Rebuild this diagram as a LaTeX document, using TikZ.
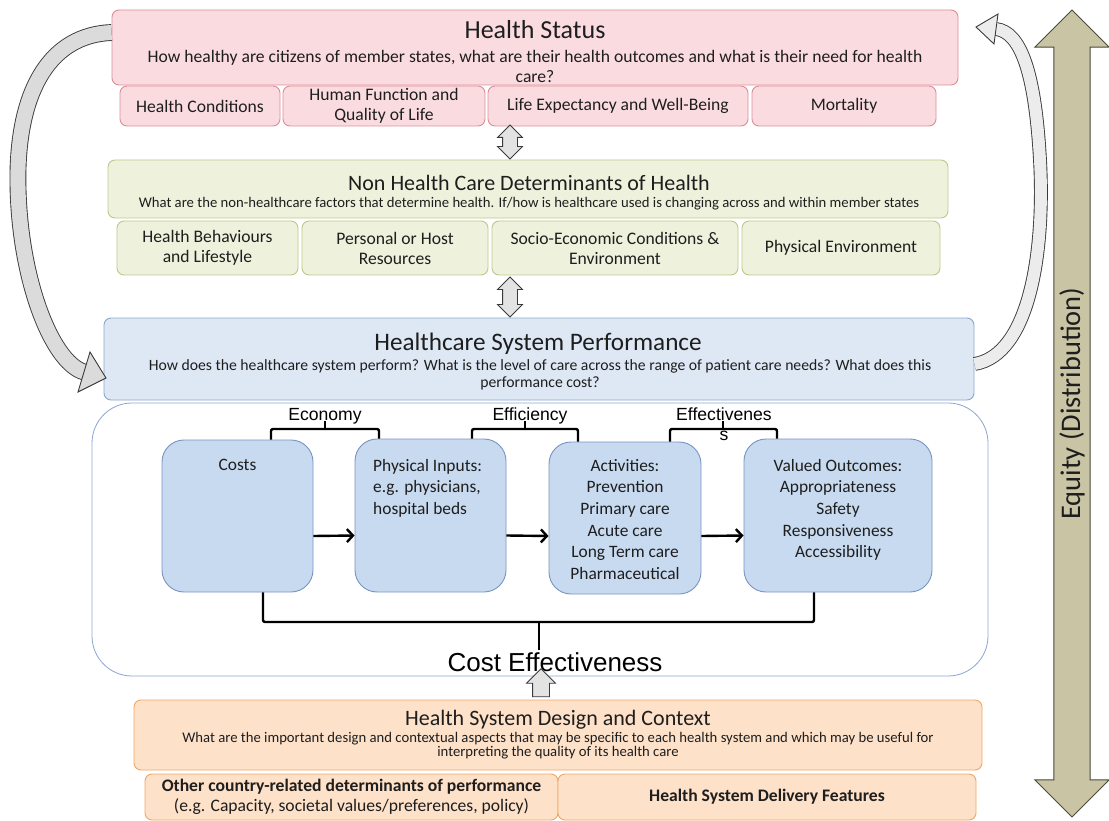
\documentclass[tikz,border=0pt]{standalone}
\usepackage{fontspec}
\setmainfont{Carlito}
\newfontfamily\arialfont{Liberation Sans}
\usepackage{xcolor}
\definecolor{hsfill}{HTML}{FADCE0}
\definecolor{hsline}{HTML}{DB8E98}
\definecolor{ndfill}{HTML}{EEF2DD}
\definecolor{ndline}{HTML}{B9CA8C}
\definecolor{pffill}{HTML}{DEE8F5}
\definecolor{pfline}{HTML}{8AA6D0}
\definecolor{infill}{HTML}{C7DAF0}
\definecolor{inline}{HTML}{7894C2}
\definecolor{dsfill}{HTML}{FDE1C9}
\definecolor{dsline}{HTML}{F0A766}
\definecolor{eqfill}{HTML}{C8C4A4}
\definecolor{eqline}{HTML}{4B4A3C}
\definecolor{arrline}{HTML}{3A3A3A}
\definecolor{txt}{HTML}{1E1E1E}
\usepackage{tikz}
\usetikzlibrary{arrows.meta, positioning, shapes.arrows}
\tikzset{
    panel/.style={
        rectangle, draw, rounded corners=7pt,
        line width=0.9pt, inner sep=0pt
    },
    hsbox/.style={panel, fill=hsfill, draw=hsline},
    ndbox/.style={panel, fill=ndfill, draw=ndline},
    pfbox/.style={panel, fill=pffill, draw=pfline},
    dsbox/.style={panel, fill=dsfill, draw=dsline},
    inbox/.style={panel, fill=infill, draw=inline, rounded corners=22pt},
    paneltitle/.style={font=\fontsize{26}{30}\selectfont, text=txt},
    question/.style={align=center, text=txt},
    item/.style={align=center, text=txt, font=\fontsize{17.6}{20}\selectfont},
    intext/.style={align=center, text=txt, inner sep=0pt,
        font=\fontsize{17.4}{21.6}\selectfont},
    lbl/.style={font=\arialfont\fontsize{17.6}{20.5}\selectfont, inner sep=0pt},
    flow/.style={line width=2.4pt, -{Straight Barb[length=6pt,width=13pt]}},
    brace/.style={line width=2.4pt, rounded corners=2pt},
    dbl/.style={
        double arrow, draw=arrline, fill=gray!22, rotate=90,
        line width=0.8pt, inner xsep=0pt, inner ysep=7pt,
        minimum height=34pt, double arrow head extend=5pt
    },
    loopback/.style={draw=arrline, line width=0.9pt, double distance=15pt},
}

\begin{document}
\begin{tikzpicture}[x=1pt, y=-1pt]
        \useasboundingbox (0,0) rectangle (1109,821);

        % equity arrow
        \node[double arrow, draw=eqline, fill=eqfill, rotate=90, line width=1pt,
              minimum height=807pt, inner xsep=0pt, inner ysep=5pt, double arrow head extend=19pt,
              font=\fontsize{28.4}{32}\selectfont, text=txt] (eq) at (1072,413.5)
              {\hspace*{20pt}Equity (Distribution)};

        % health status
        \node[hsbox, minimum width=846pt, minimum height=75pt] (hs) at (535,47.5) {};
        \node[paneltitle] (hst) at (535,30) {Health Status};
        \node[question, font=\fontsize{17.6}{20}\selectfont] (hsq) at (535,66)
            {How healthy are citizens of member states, what are their health outcomes and what is their need for health\\care?};
        \node[hsbox, item, minimum width=160pt, minimum height=40pt] (hs1) at (200,106) {Health Conditions};
        \node[hsbox, item, minimum width=202pt, minimum height=40pt] (hs2) at (384,106) {Human Function and\\Quality of Life};
        \node[hsbox, item, minimum width=260pt, minimum height=40pt] (hs3) at (618,106) {Life Expectancy and Well-Being};
        \node[hsbox, item, minimum width=184pt, minimum height=40pt] (hs4) at (844,106) {Mortality};

        % non health care determinants
        \node[ndbox, minimum width=840pt, minimum height=58pt] (nd) at (528,189) {};
        \node[paneltitle, font=\fontsize{22}{26}\selectfont] (ndt) at (529,183) {Non Health Care Determinants of Health};
        \node[question, font=\fontsize{14.7}{17}\selectfont] (ndq) at (529,204)
            {What are the non-healthcare factors that determine health. If/how is healthcare used is changing across and within member states};
        \node[ndbox, item, minimum width=181pt, minimum height=54pt] (nd1) at (207.5,248) {Health Behaviours\\and Lifestyle};
        \node[ndbox, item, minimum width=186pt, minimum height=54pt] (nd2) at (395,248) {Personal or Host\\Resources};
        \node[ndbox, item, minimum width=246pt, minimum height=54pt] (nd3) at (615,248) {Socio-Economic Conditions \&\\Environment};
        \node[ndbox, item, minimum width=198pt, minimum height=54pt] (nd4) at (841,248) {Physical Environment};

        % healthcare system performance
        \node[pfbox, minimum width=870pt, minimum height=82pt] (pf) at (539,359) {};
        \node[paneltitle, font=\fontsize{25.2}{29}\selectfont] (pft) at (538,344) {Healthcare System Performance};
        \node[question, font=\fontsize{15.7}{16.5}\selectfont] (pfq) at (540,375)
            {How does the healthcare system perform? What is the level of care across the range of patient care needs? What does this\\performance cost?};

        % curved feedback arrows
        \draw[loopback, double=gray!28]
            ([yshift=15pt]hs.west) .. controls (50,35) and (20,90) .. (18,170)
            .. controls (16,270) and (50,362) .. (84,372);
        \filldraw[draw=arrline, fill=gray!28, line width=0.9pt]
            (78,392) -- (106,378) -- (90,352) -- cycle;
        \draw[loopback, double=gray!15, double distance=12pt]
            ([yshift=-5pt]pf.east) .. controls (1030,355) and (1045,250) .. (1040,160)
            .. controls (1035,70) and (1020,32) .. (996,29);
        \filldraw[draw=arrline, fill=gray!15, line width=0.9pt]
            (998,14) -- (976,27) -- (994,44) -- cycle;

        \node[dbl] (a1) at (510,142) {};
        \node[dbl, minimum height=40pt] (a2) at (510,297) {};

        % value chain
        \node[draw=pfline, rounded corners=40pt, line width=0.8pt,
              minimum width=896pt, minimum height=273pt] (vc) at (540,539.5) {};

        \node[inbox, minimum width=151pt, minimum height=152pt] (costs) at (237.5,516) {};
        \node[inbox, minimum width=151pt, minimum height=153pt] (pin) at (430.5,515.5) {};
        \node[inbox, minimum width=152pt, minimum height=152pt] (act) at (625,518) {};
        \node[inbox, minimum width=188pt, minimum height=153pt] (vo) at (838,515.5) {};

        \node[intext, anchor=north] at (237.5,459) {Costs};
        \node[intext, anchor=north west, align=left] at (373,459) {Physical Inputs:\\e.g. physicians,\\hospital beds};
        \node[intext, anchor=north] at (625,459) {Activities:\\Prevention\\Primary care\\Acute care\\Long Term care\\Pharmaceutical};
        \node[intext, anchor=north] at (838,459) {Valued Outcomes:\\Appropriateness\\Safety\\Responsiveness\\Accessibility};

        \draw[flow] ([yshift=-20pt]costs.east) -- ([yshift=-20pt]pin.west);
        \draw[flow] ([yshift=-20pt]pin.east) -- ([yshift=-18pt]act.west);
        \draw[flow] ([yshift=-18pt]act.east) -- ([yshift=-20pt]vo.west);

        % brackets
        \coordinate (ecoM) at (325,429);
        \coordinate (effM) at (525,429);
        \coordinate (fctM) at (723,429);
        \draw[brace] ([xshift=33.5pt]costs.north) |- (ecoM) -| ([xshift=-51.5pt]pin.north);
        \draw[brace] ([xshift=41.5pt]pin.north) |- (effM) -| ([xshift=-47pt]act.north);
        \draw[brace] ([xshift=45pt]act.north) |- (fctM) -| ([xshift=-61pt]vo.north);
        \draw[brace] (ecoM) -- ++(0,-8);
        \draw[brace] (effM) -- ++(0,-8);
        \draw[brace] (fctM) -- ++(0,-8);
        \node[lbl, anchor=base] (eco) at (325,420) {Economy};
        \node[lbl, anchor=base] (eff) at (530,420) {Efficiency};
        \node[lbl, anchor=base, align=center] (fct) at (724,440.5) {Effectivenes\\s};

        \coordinate (ceM) at (539,622);
        \draw[brace] ([xshift=25.5pt]costs.south) |- (ceM) -| ([xshift=-24pt]vo.south);
        \draw[brace] (ceM) -- ++(0,28);
        \node[lbl, font=\arialfont\fontsize{26}{30}\selectfont] (ce) at (555,662) {Cost Effectiveness};

        % health system design
        \node[single arrow, draw=arrline, fill=gray!22, rotate=90, line width=0.8pt,
              inner xsep=0pt, inner ysep=8pt, minimum height=28pt,
              single arrow head extend=6pt] (up) at (541,687) {};
        \node[dsbox, minimum width=848pt, minimum height=70pt] (ds) at (558,735) {};
        \node[paneltitle, font=\fontsize{22}{26}\selectfont] (dst) at (558,720) {Health System Design and Context};
        \node[question, font=\fontsize{14.7}{14}\selectfont] (dsq) at (558,746)
            {What are the important design and contextual aspects that may be specific to each health system and which may be useful for\\interpreting the quality of its health care};
        \node[dsbox, item, minimum width=413pt, minimum height=46pt] (ds1) at (351.5,797)
            {\textbf{Other country-related determinants of performance}\\(e.g. Capacity, societal values/preferences, policy)};
        \node[dsbox, item, minimum width=418pt, minimum height=46pt] (ds2) at (767,797)
            {\textbf{Health System Delivery Features}};
\end{tikzpicture}
\end{document}
